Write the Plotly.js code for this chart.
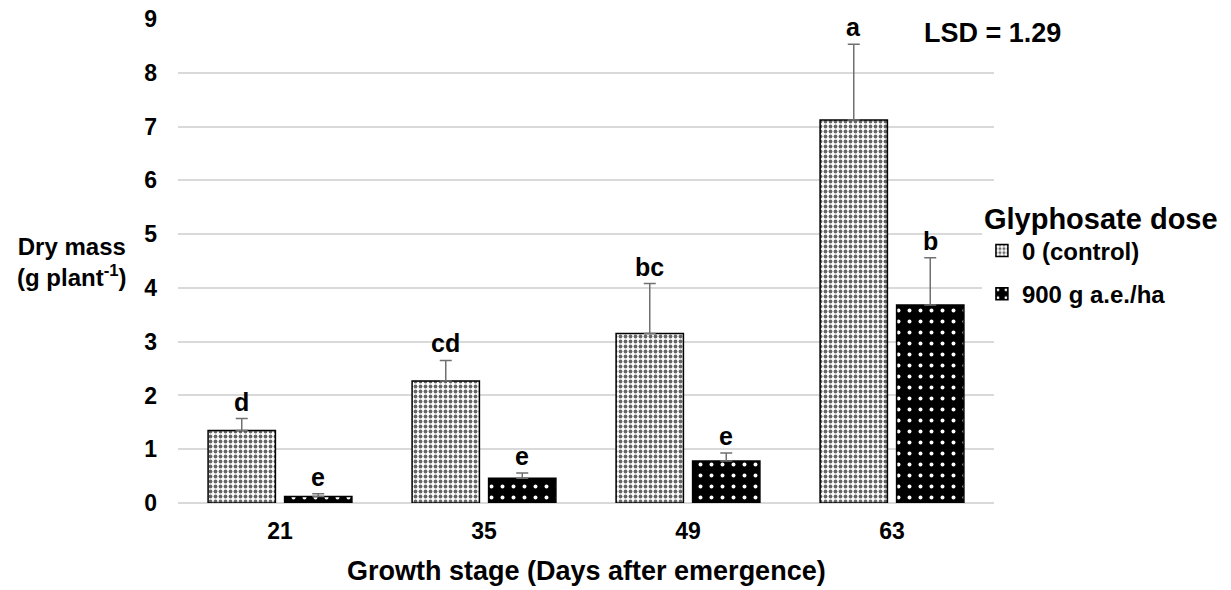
<!DOCTYPE html>
<html><head><meta charset="utf-8">
<script src="https://cdn.plot.ly/plotly-3.0.1.min.js"></script>
<style>body{margin:0;background:#fff}#c{width:1231px;height:590px}</style>
</head><body><div id="c"></div>
<script>
const stages = ['21','35','49','63'];
const controlMean = [1.35, 2.27, 3.15, 7.12];
const controlErr = [0.22, 0.38, 0.93, 1.41];
const treatMean = [0.12, 0.46, 0.78, 3.68];
const treatErr = [0.05, 0.10, 0.15, 0.88];
const controlLetters = ['d','cd','bc','a'];
const treatLetters = ['e','e','e','b'];
const seriesNames = ['0 (control)','900 g a.e./ha'];

const F = 'Liberation Sans, Arial, sans-serif';
const bargap = 0.25;
const half = (1 - bargap) / 4;
const zeros = stages.map(()=>0);

const traces = [
 {type:'bar', name:seriesNames[0], legendgroup:'g1', x:stages, y:controlMean,
  marker:{color:'#ffffff', line:{color:'#000', width:1.5},
          pattern:{shape:'.', fgcolor:'#666', bgcolor:'#fff', size:5, solidity:0.45}},
  error_y:{type:'data', symmetric:false, array:controlErr, arrayminus:zeros, visible:true, color:'#707070', thickness:1.5, width:6}},
 {type:'bar', name:seriesNames[1], legendgroup:'g2', x:stages, y:treatMean,
  marker:{color:'#000', line:{color:'#000', width:1.5},
          pattern:{shape:'.', fgcolor:'#fff', bgcolor:'#000', size:11, solidity:0.1}},
  error_y:{type:'data', symmetric:false, array:treatErr, arrayminus:zeros, visible:true, color:'#707070', thickness:1.5, width:6}}
];

const ann = [];
stages.forEach((s,i)=>{
  ann.push({x:i-half, y:controlMean[i]+controlErr[i], yanchor:'bottom', yshift:1, text:'<b>'+controlLetters[i]+'</b>', showarrow:false, font:{family:F,size:25,color:'#000'}});
  ann.push({x:i+half, y:treatMean[i]+treatErr[i], yanchor:'bottom', yshift:1, text:'<b>'+treatLetters[i]+'</b>', showarrow:false, font:{family:F,size:25,color:'#000'}});
});
ann.push({xref:'paper', yref:'paper', x:0.912, y:0.971, xanchor:'left', yanchor:'middle', text:'<b>LSD = 1.29</b>', showarrow:false, font:{family:F,size:27,color:'#000'}});
ann.push({xref:'paper', yref:'paper', x:-0.13, y:0.498, xanchor:'center', yanchor:'middle', align:'center', text:'<b>Dry mass<br>(g plant<sup>-1</sup>)</b>', showarrow:false, font:{family:F,size:24,color:'#000'}});
ann.push({xref:'paper', yref:'paper', x:0.5, y:-0.1405, xanchor:'center', yanchor:'middle', text:'<b>Growth stage (Days after emergence)</b>', showarrow:false, font:{family:F,size:27,color:'#000'}});

const layout = {
  width:1231, height:590,
  margin:{l:178, r:236, t:19, b:87},
  paper_bgcolor:'#fff', plot_bgcolor:'#fff',
  barmode:'group', bargap:bargap, bargroupgap:0.12,
  font:{family:F, color:'#000'},
  xaxis:{type:'category', tickfont:{family:F,size:23,weight:'bold'}, showline:false, ticks:'', ticklabelstandoff:12, automargin:false},
  yaxis:{range:[0,9], dtick:1, tickfont:{family:F,size:23,weight:'bold'}, gridcolor:'#d9d9d9', gridwidth:1.5,
         zeroline:true, zerolinecolor:'#d9d9d9', zerolinewidth:1.5, ticks:'', ticklabelstandoff:20, automargin:false},
  showlegend:true,
  legend:{x:0.984, y:0.645, xanchor:'left', yanchor:'top',
          title:{text:'<b>Glyphosate dose</b>', font:{family:F,size:29}},
          font:{family:F,size:24,weight:'bold'}, itemwidth:30, tracegroupgap:9},
  annotations:ann
};
Plotly.newPlot('c', traces, layout, {displayModeBar:false});
</script></body></html>
